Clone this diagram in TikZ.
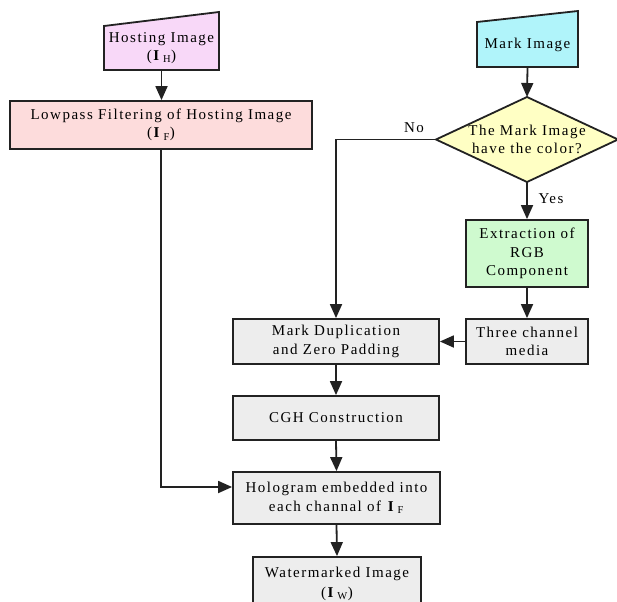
\documentclass[tikz,border=0pt]{standalone}
\usepackage{fontspec}
\setmainfont{Liberation Serif}[LetterSpace=10]
\usetikzlibrary{arrows.meta}
\definecolor{hostc}{HTML}{F8D8F8}
\definecolor{lowc}{HTML}{FDDCDC}
\definecolor{markc}{HTML}{B0F4FA}
\definecolor{diac}{HTML}{FFFFC4}
\definecolor{extc}{HTML}{CFFACF}
\definecolor{grayc}{HTML}{EDEDED}
\definecolor{linec}{HTML}{222222}
\begin{document}
\begin{tikzpicture}[x=1pt,y=-1pt,
  font=\fontsize{15}{18.5}\selectfont,
  box/.style={draw=linec, line width=1.8pt, inner sep=0pt, align=center},
  shp/.style={draw=linec, line width=1.8pt},
  txt/.style={inner sep=0pt, align=center},
  arr/.style={draw=linec, line width=1.8pt, -{Triangle[length=14pt,width=12pt]}},
  ln/.style={draw=linec, line width=1.8pt}]
\useasboundingbox (0,0) rectangle (617,601);
\clip (0,0) rectangle (617,601);
% Hosting image (manual input)
\filldraw[shp, fill=hostc] (104,26) -- (219,12) -- (219,70) -- (104,70) -- cycle;
\node[txt, minimum width=115, minimum height=44] (host) at (161.5,48) {Hosting Image\\(\textbf{I}\,\textsubscript{H})};
% Lowpass
\node[box, fill=lowc, minimum width=302, minimum height=48] (low) at (161,125) {Lowpass Filtering of Hosting Image\\(\textbf{I}\,\textsubscript{F})};
% Mark image
\filldraw[shp, fill=markc] (477,22) -- (578,11) -- (578,67) -- (477,67) -- cycle;
\node[txt, minimum width=101, minimum height=45] (mark) at (527.5,44.5) {Mark Image};
% Diamond
\coordinate (dl) at (436,139.5);
\coordinate (dt) at (527,97);
\coordinate (dr) at (618,139.5);
\coordinate (db) at (527,182);
\filldraw[shp, fill=diac] (dl) -- (dt) -- (dr) -- (db) -- cycle;
\node[txt] (dia) at (527,139.5) {The Mark Image\\have the color?};
% Extraction
\node[box, fill=extc, minimum width=122, minimum height=67] (ext) at (527,253.5) {Extraction of\\RGB\\Component};
% Three channel
\node[box, fill=grayc, minimum width=122, minimum height=45] (three) at (527,341.5) {Three channel\\media};
% Mark duplication
\node[box, fill=grayc, minimum width=206, minimum height=45] (dup) at (336,341.5) {Mark Duplication\\and Zero Padding};
% CGH
\node[box, fill=grayc, minimum width=206, minimum height=44] (cgh) at (336,418) {CGH Construction};
% Hologram
\node[box, fill=grayc, minimum width=207, minimum height=52] (holo) at (336.5,498) {Hologram embedded into\\each channal of \textbf{I}\,\textsubscript{F}};
% Watermarked
\node[box, fill=grayc, minimum width=168, minimum height=54] (wm) at (337,584) {Watermarked Image\\[1pt](\textbf{I}\,\textsubscript{W})};
% connectors
\coordinate (hin) at (161,487);
\draw[arr] (host.south) -- (host.south |- low.north);
\draw[arr] (low.south) |- (holo.west |- hin);
\draw[arr] (mark.south) -- (dt);
\draw[arr] (dl) -| (dup.north);
\node[txt] (no) at (414,128) {No};
\draw[arr] (db) -- (ext.north);
\node[txt] (yes) at (551,199) {Yes};
\draw[arr] (ext.south) -- (three.north);
\draw[arr] (three.west) -- (dup.east);
\draw[arr] (dup.south) -- (cgh.north);
\draw[arr] (cgh.south) -- (holo.north);
\draw[arr] (holo.south) -- (wm.north);
\end{tikzpicture}
\end{document}
